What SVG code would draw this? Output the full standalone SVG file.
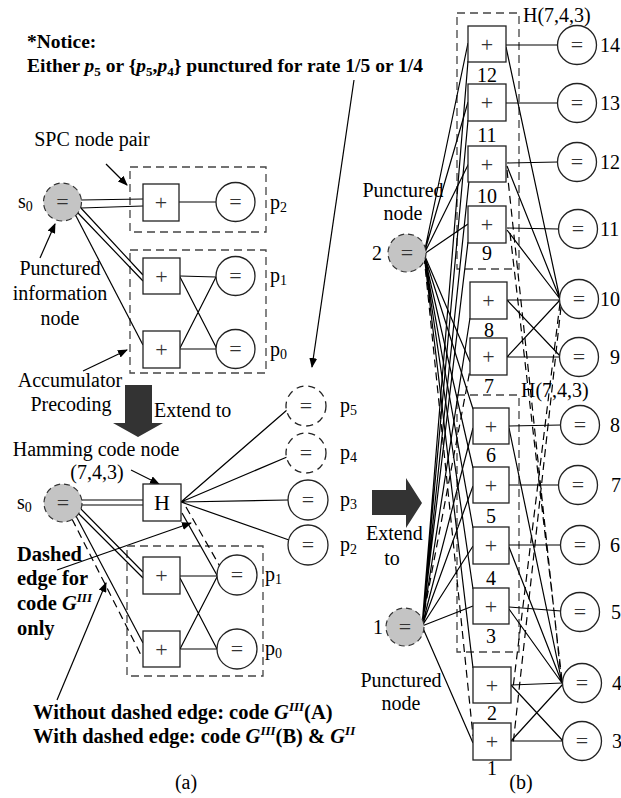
<svg xmlns="http://www.w3.org/2000/svg" width="621" height="798" viewBox="0 0 621 798">
<style>
.ln{stroke:#000;stroke-width:1.2;fill:none}
.dl{stroke:#000;stroke-width:1.2;fill:none;stroke-dasharray:8 5}
.ar{stroke:#000;stroke-width:1.2;fill:none;marker-end:url(#ah)}
.box{fill:#fff;stroke:#222;stroke-width:1.3}
.eq{fill:#fff;stroke:#222;stroke-width:1.3}
.eqd{fill:#fff;stroke:#222;stroke-width:1.3;stroke-dasharray:7 5}
.pun{fill:#c4c4c4;stroke:#333;stroke-width:1.2;stroke-dasharray:6 4}
.grp{fill:none;stroke:#444;stroke-width:1.3;stroke-dasharray:8 5}
.t{font-family:"Liberation Serif",serif;font-size:20px;fill:#000}
.tb{font-family:"Liberation Serif",serif;font-size:20.5px;font-weight:bold;fill:#000}
.sym{font-family:"Liberation Serif",serif;font-size:22px;fill:#333;text-anchor:middle}
.m{text-anchor:middle}
.big{fill:#333}
</style>
<defs>
<marker id="ah" markerWidth="10" markerHeight="8" refX="9" refY="4" orient="auto" markerUnits="userSpaceOnUse">
<path d="M0,0 L10,4 L0,8 Z" fill="#000"/>
</marker>
</defs>

<!-- texts -->
<g id="notes">
<text class="tb" x="27" y="48" style="font-size:19.5px">*Notice:</text>
<text class="tb" x="27" y="72" style="font-size:19.5px">Either <tspan font-style="italic">p</tspan><tspan font-size="13" dy="4">5</tspan><tspan dy="-4"> or {</tspan><tspan font-style="italic">p</tspan><tspan font-size="13" dy="4">5</tspan><tspan dy="-4">,</tspan><tspan font-style="italic">p</tspan><tspan font-size="13" dy="4">4</tspan><tspan dy="-4">} punctured for rate 1/5 or 1/4</tspan></text>
<path class="ar" d="M354,80 L312,367"/>
<text class="t m" x="92" y="146">SPC node pair</text>
<path class="ar" d="M106,164 L127,185"/>
<text class="t m" x="60" y="275">Punctured</text>
<text class="t m" x="60" y="300">information</text>
<text class="t m" x="60" y="325">node</text>
<path class="ar" d="M40,258 L55,224"/>
<text class="t m" x="70" y="387">Accumulator</text>
<text class="t m" x="71" y="411">Precoding</text>
<path class="ar" d="M83,371 L127,350"/>
<path class="big" d="M125,385 L152,385 L152,423 L163,423 L138,437 L113,423 L125,423 Z"/>
<text class="t" x="154" y="417">Extend to</text>
<text class="t m" x="96" y="456">Hamming code node</text>
<text class="t m" x="97" y="479">(7,4,3)</text>
<path class="ar" d="M131,470 L159,484"/>
<text class="tb" x="17" y="561">Dashed</text>
<text class="tb" x="17" y="585">edge for</text>
<text class="tb" x="17" y="610">code <tspan font-style="italic">G</tspan><tspan font-style="italic" font-size="13" dy="-8">III</tspan></text>
<text class="tb" x="17" y="635">only</text>
<path class="ar" d="M57,570 L191,523"/>
<path class="ar" d="M57,700 L106,583"/>
<text class="tb" x="33" y="719">Without dashed edge: code <tspan font-style="italic">G</tspan><tspan font-style="italic" font-size="13" dy="-8">III</tspan><tspan dy="8">(A)</tspan></text>
<text class="tb" x="33" y="743">With dashed edge: code <tspan font-style="italic">G</tspan><tspan font-style="italic" font-size="13" dy="-8">III</tspan><tspan dy="8">(B) &amp; </tspan><tspan font-style="italic">G</tspan><tspan font-style="italic" font-size="13" dy="-8">II</tspan></text>
<text class="t m" x="186" y="789">(a)</text>
<text class="t m" x="521" y="789">(b)</text>
<text class="t m" x="403" y="197">Punctured</text>
<text class="t m" x="403" y="220">node</text>
<text class="t m" x="401" y="687">Punctured</text>
<text class="t m" x="401" y="710">node</text>
<path class="big" d="M372,490 L406,490 L406,478 L422,503 L406,528 L406,515 L372,515 Z"/>
<text class="t" x="366" y="540">Extend</text>
<text class="t m" x="392" y="565">to</text>
</g>

<!-- dashed groupings -->
<g id="groups">
<rect class="grp" x="130" y="167" width="136" height="65"/>
<rect class="grp" x="130" y="250" width="136" height="123"/>
<rect class="grp" x="127" y="546" width="136" height="130"/>
<rect class="grp" x="457" y="13" width="62" height="256"/>
<text class="t" x="523" y="22">H(7,4,3)</text>
<rect class="grp" x="457" y="395" width="62" height="257"/>
<text class="t" x="521" y="397">H(7,4,3)</text>
</g>

<!-- connectors -->
<g id="connectors">
<!-- (a) upper -->
<path class="ln" d="M81,200 L143,199 M81,208 L143,206"/>
<path class="ln" d="M179,202 L216,202"/>
<path class="ln" d="M80,207 L143,275 M78,213 L143,281"/>
<path class="ln" d="M76,216 L143,345"/>
<path class="ln" d="M180,276 L216,277 M180,277 L217,349 M180,348 L216,277 M180,349 L216,349"/>
<!-- (a) lower -->
<path class="ln" d="M82,500 L143,500 M82,505 L143,505"/>
<path class="ln" d="M80,508 L143,572 M78,513 L143,578"/>
<path class="ln" d="M76,516 L143,643"/>
<path class="dl" d="M72,519 L141,655"/>
<path class="ln" d="M181,502 L287,410 M181,502 L287,457 M181,502 L288,500 M181,502 L289,540"/>
<path class="ln" d="M182,513 L218,577"/>
<path class="dl" d="M186,507 L222,570"/>
<path class="ln" d="M180,576 L217,576 M180,578 L217,649 M180,649 L217,577 M180,649 L217,649"/>
<!-- (b) left fans -->
<path class="ln" d="M424,254 L468,43 M424,254 L468,102 M424,254 L469,163 M424,254 L468,224 M424,254 L470,362"/>
<path class="ln" d="M424,254 L473,409 M424,254 L473,468 M424,254 L473,528 M424,254 L473,589 M424,254 L473,668"/>
<path class="dl" d="M424,256 L473,736"/>
<path class="ln" d="M422,626 L473,428 M422,626 L473,486 M422,626 L473,546 M422,626 L473,606 M422,626 L473,743"/>
<path class="ln" d="M422,626 L468,61 M422,626 L468,120 M422,626 L469,181 M422,626 L468,242 M422,626 L470,318"/>
<path class="dl" d="M422,624 L470,370"/>
<!-- (b) right -->
<path class="ln" d="M506,45 L558,45 M506,103 L558,103 M507,163 L558,162 M507,228 L559,229"/>
<path class="ln" d="M507,300 L560,300 M507,357 L560,357 M507,300 L561,357 M507,357 L560,300"/>
<path class="ln" d="M509,426 L561,425 M509,485 L559,485 M509,545 L561,545 M509,607 L561,611"/>
<path class="ln" d="M511,685 L563,683 M511,741 L563,741 M511,685 L563,741 M511,741 L563,684"/>
<path class="ln" d="M506,47 L560,299 M507,166 L560,299 M507,230 L560,299"/>
<path class="ln" d="M509,428 L562,683 M509,547 L562,683 M509,609 L562,683"/>
<path class="dl" d="M510,233 L562,680 M507,170 L562,686"/>
<path class="dl" d="M560,303 L513,688 M561,307 L513,745"/>
</g>

<!-- (a) nodes -->
<g id="s0_top"><circle class="pun" cx="62.5" cy="202" r="19"/><text class="sym" x="62.5" y="209">=</text><text class="t" x="18" y="208">s<tspan font-size="14" dy="3">0</tspan></text></g>
<g id="spc_check"><rect class="box" x="143" y="184" width="36" height="37"/><text class="sym" x="161" y="210">+</text></g>
<g id="p2_top"><circle class="eq" cx="235.5" cy="202" r="19.5"/><text class="sym" x="235.5" y="209">=</text><text class="t" x="270" y="209">p<tspan font-size="14" dy="3">2</tspan></text></g>
<g id="acc_check1"><rect class="box" x="143" y="258" width="37" height="36"/><text class="sym" x="161.5" y="284">+</text></g>
<g id="p1_top"><circle class="eq" cx="235.5" cy="276" r="19.5"/><text class="sym" x="235.5" y="283">=</text><text class="t" x="270" y="282">p<tspan font-size="14" dy="3">1</tspan></text></g>
<g id="acc_check0"><rect class="box" x="143" y="331" width="37" height="37"/><text class="sym" x="161.5" y="357">+</text></g>
<g id="p0_top"><circle class="eq" cx="235.5" cy="349" r="19.5"/><text class="sym" x="235.5" y="356">=</text><text class="t" x="270" y="356">p<tspan font-size="14" dy="3">0</tspan></text></g>

<g id="s0_bot"><circle class="pun" cx="63" cy="503" r="19"/><text class="sym" x="63" y="510">=</text><text class="t" x="17" y="509">s<tspan font-size="14" dy="3">0</tspan></text></g>
<g id="H_node"><rect class="box" x="143" y="484" width="38" height="37"/><text class="t m" x="162" y="510" style="font-size:22px">H</text></g>
<g id="p5"><circle class="eqd" cx="306" cy="406" r="20"/><text class="sym" x="306" y="413">=</text><text class="t" x="340" y="412">p<tspan font-size="14" dy="3">5</tspan></text></g>
<g id="p4"><circle class="eqd" cx="306" cy="453" r="20"/><text class="sym" x="306" y="460">=</text><text class="t" x="340" y="459">p<tspan font-size="14" dy="3">4</tspan></text></g>
<g id="p3"><circle class="eq" cx="308" cy="500" r="20"/><text class="sym" x="308" y="507">=</text><text class="t" x="340" y="506">p<tspan font-size="14" dy="3">3</tspan></text></g>
<g id="p2_bot"><circle class="eq" cx="308" cy="545" r="20"/><text class="sym" x="308" y="552">=</text><text class="t" x="340" y="551">p<tspan font-size="14" dy="3">2</tspan></text></g>
<g id="acc2_check1"><rect class="box" x="143" y="557" width="37" height="37"/><text class="sym" x="161.5" y="583">+</text></g>
<g id="p1_bot"><circle class="eq" cx="237" cy="575" r="20"/><text class="sym" x="237" y="582">=</text><text class="t" x="265" y="581">p<tspan font-size="14" dy="3">1</tspan></text></g>
<g id="acc2_check0"><rect class="box" x="143" y="631" width="37" height="36"/><text class="sym" x="161.5" y="657">+</text></g>
<g id="p0_bot"><circle class="eq" cx="237" cy="649" r="20"/><text class="sym" x="237" y="656">=</text><text class="t" x="265" y="655">p<tspan font-size="14" dy="3">0</tspan></text></g>

<!-- (b) info nodes -->
<g id="info2"><circle class="pun" cx="407" cy="253" r="19"/><text class="sym" x="407" y="260">=</text><text class="t m" x="377" y="260">2</text></g>
<g id="info1"><circle class="pun" cx="405" cy="627" r="19"/><text class="sym" x="405" y="634">=</text><text class="t m" x="378" y="634">1</text></g>

<!-- (b) check nodes -->
<g id="chk12"><rect class="box" x="468" y="26" width="38" height="36"/><text class="sym" x="487" y="52">+</text><text class="t m" x="487" y="82">12</text></g>
<g id="chk11"><rect class="box" x="468" y="84" width="38" height="37"/><text class="sym" x="487" y="110">+</text><text class="t m" x="487" y="142">11</text></g>
<g id="chk10"><rect class="box" x="468" y="146" width="38" height="36"/><text class="sym" x="487" y="172">+</text><text class="t m" x="487" y="203">10</text></g>
<g id="chk9"><rect class="box" x="468" y="206" width="38" height="37"/><text class="sym" x="487" y="232">+</text><text class="t m" x="487" y="260">9</text></g>
<g id="chk8"><rect class="box" x="470" y="282" width="37" height="37"/><text class="sym" x="488.5" y="308">+</text><text class="t m" x="489" y="337">8</text></g>
<g id="chk7"><rect class="box" x="470" y="338" width="37" height="37"/><text class="sym" x="488.5" y="364">+</text><text class="t m" x="489" y="393">7</text></g>
<g id="chk6"><rect class="box" x="473" y="408" width="36" height="36"/><text class="sym" x="491" y="434">+</text><text class="t m" x="491" y="462">6</text></g>
<g id="chk5"><rect class="box" x="473" y="467" width="36" height="36"/><text class="sym" x="491" y="493">+</text><text class="t m" x="491" y="523">5</text></g>
<g id="chk4"><rect class="box" x="473" y="527" width="36" height="37"/><text class="sym" x="491" y="553">+</text><text class="t m" x="491" y="585">4</text></g>
<g id="chk3"><rect class="box" x="473" y="588" width="36" height="36"/><text class="sym" x="491" y="614">+</text><text class="t m" x="491" y="643">3</text></g>
<g id="chk2"><rect class="box" x="473" y="667" width="38" height="36"/><text class="sym" x="492" y="693">+</text><text class="t m" x="492" y="720">2</text></g>
<g id="chk1"><rect class="box" x="473" y="723" width="38" height="37"/><text class="sym" x="492" y="749">+</text><text class="t m" x="492" y="775">1</text></g>

<!-- (b) variable nodes -->
<g id="var14"><circle class="eq" cx="577" cy="45" r="19.5"/><text class="sym" x="577" y="52">=</text><text class="t" x="600" y="52">14</text></g>
<g id="var13"><circle class="eq" cx="577" cy="103" r="19.5"/><text class="sym" x="577" y="110">=</text><text class="t" x="600" y="110">13</text></g>
<g id="var12"><circle class="eq" cx="577" cy="162" r="19.5"/><text class="sym" x="577" y="169">=</text><text class="t" x="600" y="169">12</text></g>
<g id="var11"><circle class="eq" cx="578" cy="229" r="19.5"/><text class="sym" x="578" y="236">=</text><text class="t" x="600" y="236">11</text></g>
<g id="var10"><circle class="eq" cx="579" cy="299" r="19.5"/><text class="sym" x="579" y="306">=</text><text class="t" x="600" y="306">10</text></g>
<g id="var9"><circle class="eq" cx="579" cy="357" r="19.5"/><text class="sym" x="579" y="364">=</text><text class="t" x="610" y="364">9</text></g>
<g id="var8"><circle class="eq" cx="580" cy="425" r="19.5"/><text class="sym" x="580" y="432">=</text><text class="t" x="610" y="432">8</text></g>
<g id="var7"><circle class="eq" cx="578" cy="485" r="19.5"/><text class="sym" x="578" y="492">=</text><text class="t" x="611" y="492">7</text></g>
<g id="var6"><circle class="eq" cx="580" cy="545" r="19.5"/><text class="sym" x="580" y="552">=</text><text class="t" x="610" y="552">6</text></g>
<g id="var5"><circle class="eq" cx="580" cy="612" r="19.5"/><text class="sym" x="580" y="619">=</text><text class="t" x="611" y="619">5</text></g>
<g id="var4"><circle class="eq" cx="582" cy="683" r="19.5"/><text class="sym" x="582" y="690">=</text><text class="t" x="612" y="690">4</text></g>
<g id="var3"><circle class="eq" cx="582" cy="741" r="19.5"/><text class="sym" x="582" y="748">=</text><text class="t" x="612" y="748">3</text></g>
</svg>
